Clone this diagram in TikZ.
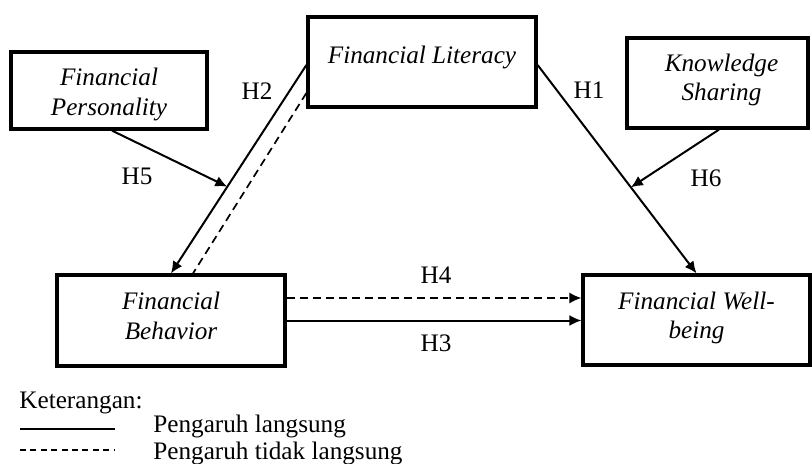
\documentclass[tikz,border=0pt]{standalone}
\usepackage{fontspec}
\setmainfont{Liberation Serif}
\usetikzlibrary{arrows.meta}
\begin{document}
\begin{tikzpicture}[x=0.5pt,y=-0.5pt,
  txt/.style={font=\fontsize{12.6}{14.8}\selectfont, inner sep=0pt},
  boxtxt/.style={font=\fontsize{12.6}{14.8}\selectfont\itshape, inner sep=0pt, align=center},
  box/.style={draw, line width=1.6pt, inner sep=0pt},
  arr/.style={-{Latex[length=6pt,width=5.5pt]}, line width=1pt},
  dsh/.style={dash pattern=on 4pt off 2.5pt, line width=0.85pt},
  lgd/.style={line width=0.6pt}]
\useasboundingbox (0,0) rectangle (812,464);
% boxes
\node[box, minimum width=98pt, minimum height=38.5pt,
  label={[boxtxt, yshift=-2pt]center:{Financial\\Personality}}] (pers) at (109,90.5) {};
\node[box, minimum width=114pt, minimum height=45pt,
  label={[boxtxt, yshift=2.5pt]center:{Financial Literacy}}] (lit) at (422,62) {};
\node[box, minimum width=90.5pt, minimum height=45pt,
  label={[boxtxt, yshift=1.5pt, xshift=2pt]center:{Knowledge\\Sharing}}] (ks) at (717.5,83) {};
\node[box, minimum width=114pt, minimum height=45.5pt,
  label={[boxtxt, yshift=2.25pt]center:{Financial\\Behavior}}] (beh) at (171,320.5) {};
\node[box, minimum width=113.5pt, minimum height=45pt,
  label={[boxtxt, yshift=1pt]center:{Financial Well-\\being}}] (wb) at (696.5,320) {};
% connectors
\coordinate (litA) at ([yshift=-1.5pt]lit.west);
\coordinate (litB) at ([yshift=-15.5pt]lit.west);
\draw[arr] (litA) -- coordinate[pos=0.584] (m2) (beh.north);
\draw[dsh] (litB) -- ([xshift=11pt]beh.north);
\draw[arr] ([xshift=1.5pt]pers.south) -- (m2);
\draw[arr] ([yshift=-1.5pt]lit.east) -- coordinate[pos=0.587] (m1) (wb.north);
\draw[arr] ([xshift=0.75pt]ks.south) -- (m1);
\draw[arr, dsh] ([yshift=11.25pt]beh.east) -- ([yshift=11.25pt]beh.east -| wb.west);
\draw[arr] (beh.east) -- (beh.east -| wb.west);
% labels
\node[txt] (h2) at (257,91) {H2};
\node[txt] (h5) at (137,176) {H5};
\node[txt] (h1) at (589,90) {H1};
\node[txt] (h6) at (706,178) {H6};
\node[txt] (h4) at (436,275) {H4};
\node[txt] (h3) at (436,343) {H3};
% legend
\node[txt, anchor=base west] (ket) at (19,408) {Keterangan:};
\node[txt, anchor=base west] (l1) at (153,432) {Pengaruh langsung};
\node[txt, anchor=base west] (l2) at (153,459) {Pengaruh tidak langsung};
\coordinate (s1a) at (20,429);
\coordinate (s1b) at (115,429);
\coordinate (s2a) at (20,450);
\coordinate (s2b) at (115,450);
\draw[lgd] (s1a) -- (s1b);
\draw[lgd, dash pattern=on 3pt off 2.2pt] (s2a) -- (s2b);
\end{tikzpicture}
\end{document}
